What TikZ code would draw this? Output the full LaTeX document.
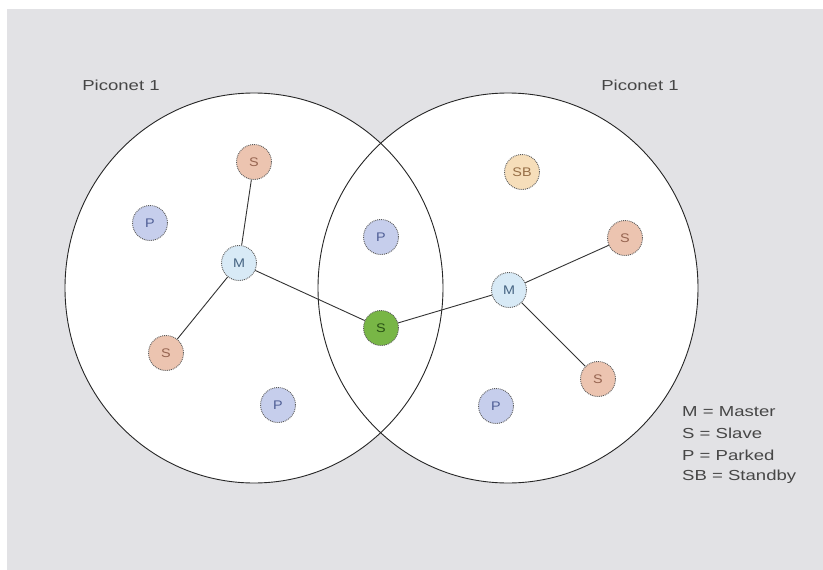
\documentclass[tikz,border=0pt]{standalone}
\usepackage{fontspec}
\setmainfont{Liberation Sans}
\definecolor{bggray}{RGB}{226,226,229}
\definecolor{sfill}{RGB}{236,196,176}
\definecolor{stext}{RGB}{150,100,80}
\definecolor{pfill}{RGB}{198,206,236}
\definecolor{ptext}{RGB}{80,95,150}
\definecolor{mfill}{RGB}{216,234,246}
\definecolor{mtext}{RGB}{70,100,130}
\definecolor{gfill}{RGB}{120,182,70}
\definecolor{gtext}{RGB}{40,80,20}
\definecolor{sbfill}{RGB}{246,222,186}
\definecolor{sbtext}{RGB}{150,110,70}
\definecolor{labtext}{RGB}{70,70,70}
\newcommand{\wide}[1]{\scalebox{1.28}[1]{#1}}
\newcommand{\dwide}[1]{\scalebox{1.15}[1]{#1}}
\tikzset{
  dev/.style={circle, minimum size=35pt, inner sep=0pt, draw=black!65, densely dotted, line width=0.9pt, font=\fontsize{12.5}{13}\selectfont},
  slave/.style={dev, fill=sfill, text=stext},
  parked/.style={dev, fill=pfill, text=ptext},
  master/.style={dev, fill=mfill, text=mtext},
  bridge/.style={dev, fill=gfill, text=gtext},
  standby/.style={dev, fill=sbfill, text=sbtext},
  link/.style={draw=black!80, line width=0.9pt},
  net/.style={draw=black!85, line width=0.9pt},
  lab/.style={text=labtext, font=\fontsize{14.5}{16}\selectfont, inner sep=0pt},
}
\begin{document}
\begin{tikzpicture}[x=1pt,y=-1pt]
\useasboundingbox (0,0) rectangle (823,570);
\fill[white] (0,0) rectangle (823,570);
\fill[bggray] (7,9) rectangle (823,570);
% piconets
\fill[white] (254,288) ellipse [x radius=189, y radius=195];
\fill[white] (508,288) ellipse [x radius=190, y radius=195];
\draw[net] (254,288) ellipse [x radius=189, y radius=195];
\draw[net] (508,288) ellipse [x radius=190, y radius=195];
% labels
\node[lab] (l1) at (121,85) {\wide{Piconet 1}};
\node[lab] (l2) at (640,85) {\wide{Piconet 1}};
% nodes
\node[slave] (s1) at (254,162) {\dwide{S}};
\node[parked] (p1) at (150,223) {\dwide{P}};
\node[master] (m1) at (239,263) {\dwide{M}};
\node[slave] (s2) at (166,353) {\dwide{S}};
\node[parked] (p2) at (278,405) {\dwide{P}};
\node[parked] (p3) at (381,237) {\dwide{P}};
\node[bridge] (g) at (381,328) {\dwide{S}};
\node[standby] (sb) at (522,172) {\dwide{SB}};
\node[slave] (s3) at (625,238) {\dwide{S}};
\node[master] (m2) at (509,290) {\dwide{M}};
\node[slave] (s4) at (598,379) {\dwide{S}};
\node[parked] (p4) at (496,406) {\dwide{P}};
% links
\draw[link] (m1) -- (s1);
\draw[link] (m1) -- (s2);
\draw[link] (m1) -- (g);
\draw[link] (m2) -- (g);
\draw[link] (m2) -- (s3);
\draw[link] (m2) -- (s4);
% legend
\node[lab, anchor=west] (k1) at (682,412) {\wide{M = Master}};
\node[lab, anchor=west] (k2) at (682,433) {\wide{S = Slave}};
\node[lab, anchor=west] (k3) at (682,455) {\wide{P = Parked}};
\node[lab, anchor=west] (k4) at (682,477) {\wide{SB = Standby}};
\end{tikzpicture}
\end{document}
